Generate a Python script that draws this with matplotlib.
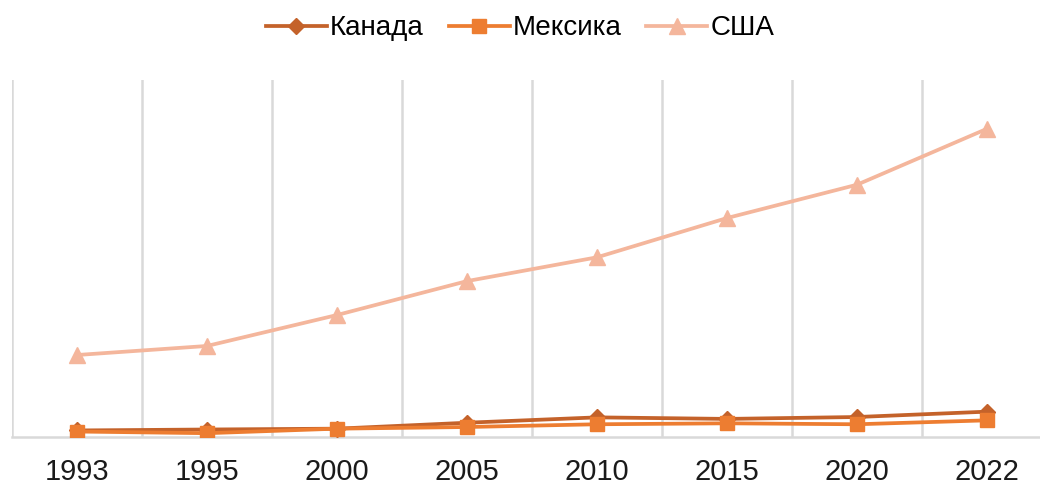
import matplotlib
matplotlib.use("Agg")
import matplotlib.pyplot as plt
import numpy as np

plt.rcParams['font.family'] = ['Liberation Sans', 'DejaVu Sans']

years = ["1993", "1995", "2000", "2005", "2010", "2015", "2020", "2022"]
canada = [0.55, 0.63, 0.70, 1.20, 1.65, 1.52, 1.68, 2.13]
mexico = [0.46, 0.32, 0.70, 0.84, 1.07, 1.15, 1.07, 1.40]
usa = [6.89, 7.65, 10.25, 13.1, 15.1, 18.4, 21.2, 25.9]

fig = plt.figure(figsize=(10.4, 4.86), dpi=100)
ax = fig.add_axes([12/1040, 49/486, 1040/1040, 357/486])

x = np.arange(len(years))
ax.plot(x, canada, color='#C4622A', lw=2.7, marker='D', ms=8, label='Канада', zorder=3)
ax.plot(x, mexico, color='#ED7D31', lw=2.7, marker='s', ms=10, label='Мексика', zorder=4)
ax.plot(x, usa, color='#F4B69C', lw=2.7, marker='^', ms=11, label='США', zorder=2)

ax.set_xlim(-0.5, 7.5)
ax.set_ylim(0, 30)
ax.set_xticks(x)
ax.set_xticklabels(years, fontsize=21, color='#1a1a1a')
ax.set_xticks(np.arange(-0.5, 8, 1), minor=True)
ax.tick_params(axis='x', which='both', length=0, pad=15)
ax.set_yticks([])
ax.grid(which='minor', axis='x', color='#d9d9d9', lw=1.8)
for s in ['top', 'right', 'left']:
    ax.spines[s].set_visible(False)
ax.spines['bottom'].set_color('#d9d9d9')
ax.spines['bottom'].set_linewidth(1.8)

fig.legend(loc='upper center', bbox_to_anchor=(0.5, 1.0), ncol=3, frameon=False,
           fontsize=20, handlelength=2.2, columnspacing=0.9, handletextpad=0.1,
           borderaxespad=0.15)

fig.savefig('out.png', dpi=100)
